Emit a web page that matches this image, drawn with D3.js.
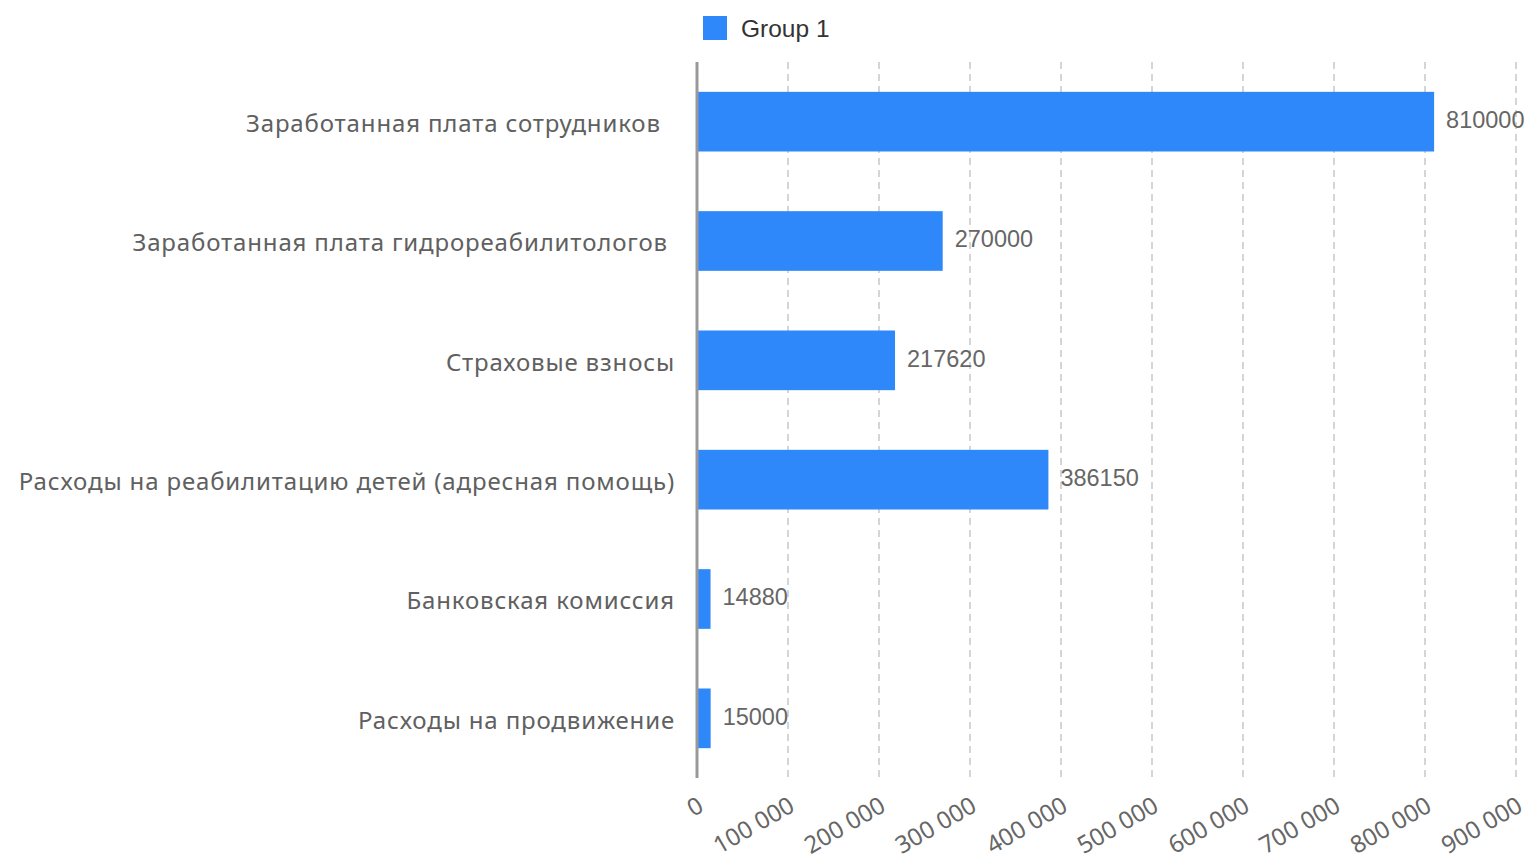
<html>
<head>
    <meta charset="utf-8">
    <title>Group 1</title>
    <script src="https://d3js.org/d3.v7.min.js"></script>
    <style>
        body { margin: 0; background: #fff; }
        .cat { font-family: "Noto Sans", "Open Sans", sans-serif; font-size: 24px; letter-spacing: 0.85px; fill: #606060; white-space: pre; }
        .val { font-family: "Liberation Sans", Arial, sans-serif; font-size: 23.5px; fill: #666; }
        .tick-lbl { font-family: "Noto Sans", "Open Sans", sans-serif; font-size: 24px; fill: #666; }
    </style>
</head>
<body>
<div id="chart"></div>
<script>
    // data
    var categories = [
        "Заработанная плата сотрудников  ",
        "Заработанная плата гидрореабилитологов ",
        "Страховые взносы",
        "Расходы на реабилитацию детей (адресная помощь)",
        "Банковская комиссия",
        "Расходы на продвижение"
    ];
    var values = [810000, 270000, 217620, 386150, 14880, 15000];
    var tickValues = [0, 100000, 200000, 300000, 400000, 500000, 600000, 700000, 800000, 900000];
    var seriesName = "Group 1";

    var width = 1531, height = 860;
    var margin = { top: 62, right: 15, bottom: 82, left: 697 };
    var color = "#2f88fa";

    var svg = d3.select("#chart").append("svg")
        .attr("width", width)
        .attr("height", height);

    var x = d3.scaleLinear()
        .domain([0, 900000])
        .range([margin.left, width - margin.right]);

    var y = d3.scaleBand()
        .domain(categories)
        .range([margin.top, height - margin.bottom])
        .paddingInner(0.5)
        .paddingOuter(0.25);

    var ru = d3.formatLocale({ decimal: ",", thousands: " ", grouping: [3], currency: ["", ""] });
    var fmt = ru.format(",d");

    // grid lines
    svg.append("g")
        .selectAll("line")
        .data(tickValues.slice(1))
        .enter().append("line")
        .attr("x1", function(d) { return x(d); })
        .attr("x2", function(d) { return x(d); })
        .attr("y1", margin.top)
        .attr("y2", height - margin.bottom)
        .attr("stroke", "#c8c8c8")
        .attr("stroke-width", 1.5)
        .attr("stroke-dasharray", "7,5");

    // bars
    svg.append("g")
        .selectAll("rect")
        .data(values)
        .enter().append("rect")
        .attr("x", x(0))
        .attr("y", function(d, i) { return y(categories[i]); })
        .attr("width", function(d) { return x(d) - x(0); })
        .attr("height", y.bandwidth())
        .attr("fill", color);

    // value labels
    svg.append("g")
        .selectAll("text")
        .data(values)
        .enter().append("text")
        .attr("class", "val")
        .attr("x", function(d) { return x(d) + 12; })
        .attr("y", function(d, i) { return y(categories[i]) + y.bandwidth() / 2 - 2; })
        .attr("dy", "0.35em")
        .text(function(d) { return d; });

    // category labels
    svg.append("g")
        .selectAll("text")
        .data(categories)
        .enter().append("text")
        .attr("class", "cat")
        .attr("x", margin.left - 22)
        .attr("y", function(d) { return y(d) + y.bandwidth() / 2 + 2; })
        .attr("dy", "0.35em")
        .attr("text-anchor", "end")
        .text(function(d) { return d; });

    // x tick labels
    svg.append("g")
        .selectAll("text")
        .data(tickValues)
        .enter().append("text")
        .attr("class", "tick-lbl")
        .attr("text-anchor", "end")
        .attr("transform", function(d) {
            return "translate(" + (x(d) + 4) + "," + (height - margin.bottom + 25) + ") rotate(-30)";
        })
        .attr("dy", "0.35em")
        .text(function(d) { return fmt(d); });

    // y axis line
    svg.append("line")
        .attr("x1", x(0))
        .attr("x2", x(0))
        .attr("y1", margin.top)
        .attr("y2", height - margin.bottom)
        .attr("stroke", "#999")
        .attr("stroke-width", 3);

    // legend
    var legend = svg.append("g").attr("transform", "translate(703,16)");
    legend.append("rect")
        .attr("width", 24)
        .attr("height", 24)
        .attr("fill", color);
    legend.append("text")
        .attr("x", 38)
        .attr("y", 12)
        .attr("dy", "0.35em")
        .style("font-family", "'Liberation Sans', Arial, sans-serif")
        .style("font-size", "24.5px")
        .style("fill", "#333")
        .text(seriesName);
</script>
</body>
</html>
